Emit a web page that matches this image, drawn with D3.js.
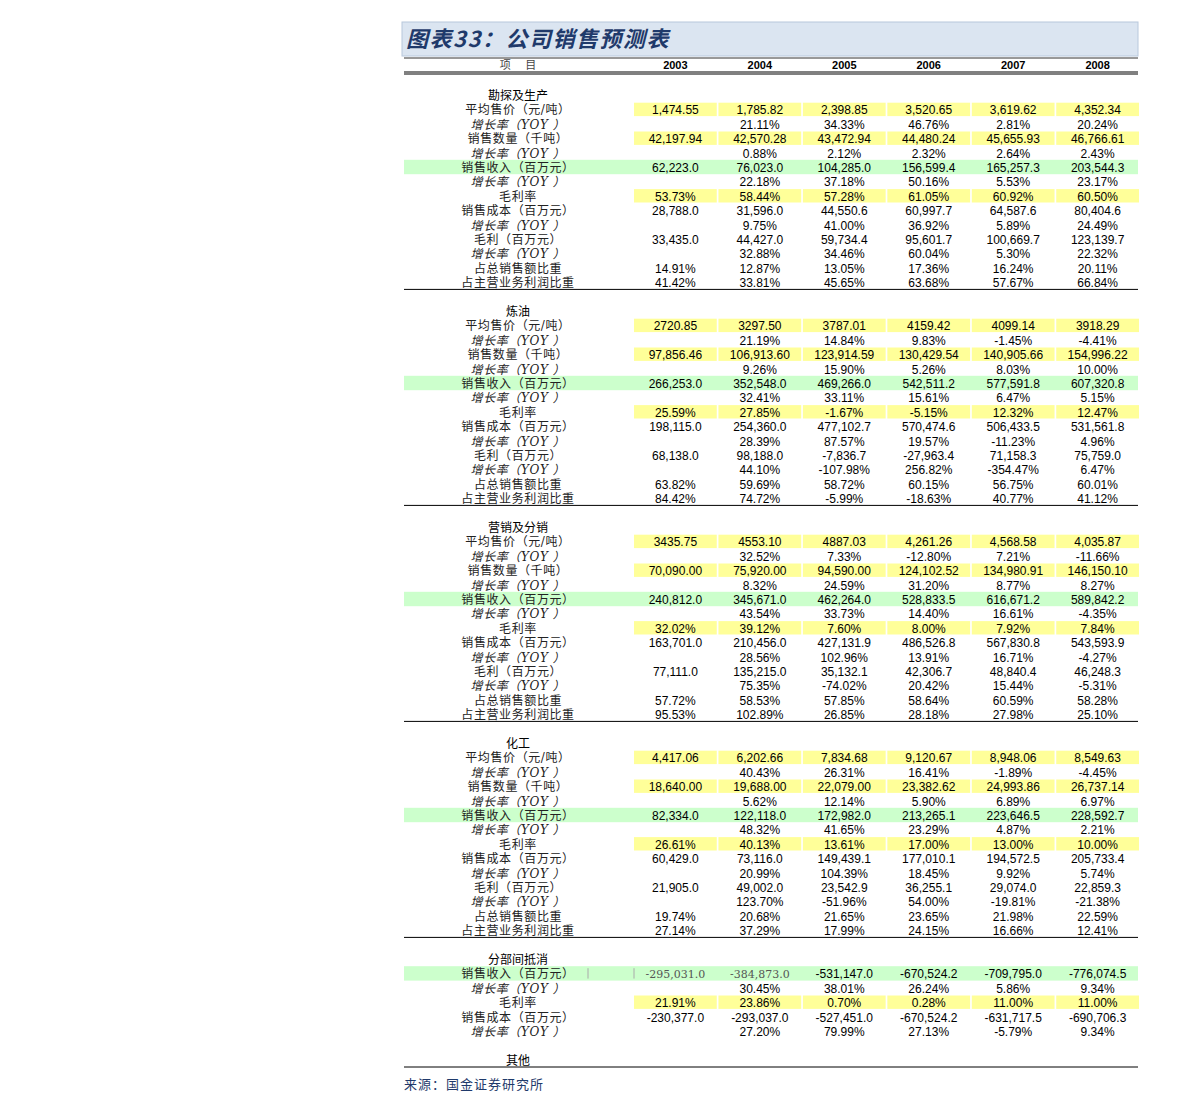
<!DOCTYPE html>
<html><head><meta charset="utf-8">
<script src="https://cdn.jsdelivr.net/npm/d3@7"></script>
<style>body{margin:0;background:#fff}</style>
</head><body><div id="tbl"></div>
<script>
// 表格数据
const years = ["2003","2004","2005","2006","2007","2008"];
const rowLabels = ["平均售价（元/吨）","增长率（YOY）","销售数量（千吨）","增长率（YOY）","销售收入（百万元）","增长率（YOY）","毛利率","销售成本（百万元）","增长率（YOY）","毛利（百万元）","增长率（YOY）","占总销售额比重","占主营业务利润比重"];
const rowFill = ["y","","y","","g","","y","","","","","",""];
const sections = ["勘探及生产","炼油","营销及分销","化工"];

const ep = [
["1,474.55","1,785.82","2,398.85","3,520.65","3,619.62","4,352.34"],
["","21.11%","34.33%","46.76%","2.81%","20.24%"],
["42,197.94","42,570.28","43,472.94","44,480.24","45,655.93","46,766.61"],
["","0.88%","2.12%","2.32%","2.64%","2.43%"],
["62,223.0","76,023.0","104,285.0","156,599.4","165,257.3","203,544.3"],
["","22.18%","37.18%","50.16%","5.53%","23.17%"],
["53.73%","58.44%","57.28%","61.05%","60.92%","60.50%"],
["28,788.0","31,596.0","44,550.6","60,997.7","64,587.6","80,404.6"],
["","9.75%","41.00%","36.92%","5.89%","24.49%"],
["33,435.0","44,427.0","59,734.4","95,601.7","100,669.7","123,139.7"],
["","32.88%","34.46%","60.04%","5.30%","22.32%"],
["14.91%","12.87%","13.05%","17.36%","16.24%","20.11%"],
["41.42%","33.81%","45.65%","63.68%","57.67%","66.84%"]];
const refining = [
["2720.85","3297.50","3787.01","4159.42","4099.14","3918.29"],
["","21.19%","14.84%","9.83%","-1.45%","-4.41%"],
["97,856.46","106,913.60","123,914.59","130,429.54","140,905.66","154,996.22"],
["","9.26%","15.90%","5.26%","8.03%","10.00%"],
["266,253.0","352,548.0","469,266.0","542,511.2","577,591.8","607,320.8"],
["","32.41%","33.11%","15.61%","6.47%","5.15%"],
["25.59%","27.85%","-1.67%","-5.15%","12.32%","12.47%"],
["198,115.0","254,360.0","477,102.7","570,474.6","506,433.5","531,561.8"],
["","28.39%","87.57%","19.57%","-11.23%","4.96%"],
["68,138.0","98,188.0","-7,836.7","-27,963.4","71,158.3","75,759.0"],
["","44.10%","-107.98%","256.82%","-354.47%","6.47%"],
["63.82%","59.69%","58.72%","60.15%","56.75%","60.01%"],
["84.42%","74.72%","-5.99%","-18.63%","40.77%","41.12%"]];
const marketing = [
["3435.75","4553.10","4887.03","4,261.26","4,568.58","4,035.87"],
["","32.52%","7.33%","-12.80%","7.21%","-11.66%"],
["70,090.00","75,920.00","94,590.00","124,102.52","134,980.91","146,150.10"],
["","8.32%","24.59%","31.20%","8.77%","8.27%"],
["240,812.0","345,671.0","462,264.0","528,833.5","616,671.2","589,842.2"],
["","43.54%","33.73%","14.40%","16.61%","-4.35%"],
["32.02%","39.12%","7.60%","8.00%","7.92%","7.84%"],
["163,701.0","210,456.0","427,131.9","486,526.8","567,830.8","543,593.9"],
["","28.56%","102.96%","13.91%","16.71%","-4.27%"],
["77,111.0","135,215.0","35,132.1","42,306.7","48,840.4","46,248.3"],
["","75.35%","-74.02%","20.42%","15.44%","-5.31%"],
["57.72%","58.53%","57.85%","58.64%","60.59%","58.28%"],
["95.53%","102.89%","26.85%","28.18%","27.98%","25.10%"]];
const chemicals = [
["4,417.06","6,202.66","7,834.68","9,120.67","8,948.06","8,549.63"],
["","40.43%","26.31%","16.41%","-1.89%","-4.45%"],
["18,640.00","19,688.00","22,079.00","23,382.62","24,993.86","26,737.14"],
["","5.62%","12.14%","5.90%","6.89%","6.97%"],
["82,334.0","122,118.0","172,982.0","213,265.1","223,646.5","228,592.7"],
["","48.32%","41.65%","23.29%","4.87%","2.21%"],
["26.61%","40.13%","13.61%","17.00%","13.00%","10.00%"],
["60,429.0","73,116.0","149,439.1","177,010.1","194,572.5","205,733.4"],
["","20.99%","104.39%","18.45%","9.92%","5.74%"],
["21,905.0","49,002.0","23,542.9","36,255.1","29,074.0","22,859.3"],
["","123.70%","-51.96%","54.00%","-19.81%","-21.38%"],
["19.74%","20.68%","21.65%","23.65%","21.98%","22.59%"],
["27.14%","37.29%","17.99%","24.15%","16.66%","12.41%"]];
const elimLabels = ["销售收入（百万元）","增长率（YOY）","毛利率","销售成本（百万元）","增长率（YOY）"];
const elimFill = ["g","","y","",""];
const elim = [
["-295,031.0","-384,873.0","-531,147.0","-670,524.2","-709,795.0","-776,074.5"],
["","30.45%","38.01%","26.24%","5.86%","9.34%"],
["21.91%","23.86%","0.70%","0.28%","11.00%","11.00%"],
["-230,377.0","-293,037.0","-527,451.0","-670,524.2","-631,717.5","-690,706.3"],
["","27.20%","79.99%","27.13%","-5.79%","9.34%"]];

const W = 1190, H = 1113, L = 404, R = 1138;
const svg = d3.select("#tbl").append("svg").attr("width", W).attr("height", H)
  .style("font-family", "'Liberation Sans',Arial,sans-serif");

const x = d3.scaleBand().domain(years).range([634, 1139]).paddingInner(0.02);
const y = d3.scaleLinear().domain([0, 1]).range([95, 109.4]); // 行号 -> 行中心
const rh = y(1) - y(0);
const labX = 518;
const base = 5;
const serif = "'DejaVu Serif','Noto Sans CJK SC',serif";

// 标题
svg.append("rect").attr("x", L - 2).attr("y", 22).attr("width", R - L + 2).attr("height", 34)
  .attr("fill", "#dbe5f1").attr("stroke", "#b8c8dc");
svg.append("text").attr("x", L + 2).attr("y", 47).text("图表33：公司销售预测表")
  .attr("font-size", 22).attr("font-weight", "bold").attr("font-style", "italic")
  .attr("letter-spacing", 1.5)
  .attr("fill", "#1f3a6b").attr("font-family", "'Noto Sans CJK SC',sans-serif");
svg.append("line").attr("x1", L).attr("x2", R).attr("y1", 58).attr("y2", 58).attr("stroke", "#333");

// 表头
svg.append("text").attr("x", labX).attr("y", 69).attr("text-anchor", "middle")
  .attr("font-size", 11).attr("font-family", serif).attr("fill", "#444").text("项　 目");
svg.selectAll(".yr").data(years).enter().append("text")
  .attr("x", d => x(d) + x.bandwidth() / 2).attr("y", 69).attr("text-anchor", "middle")
  .attr("font-size", 11).attr("font-weight", "bold").text(d => d);
svg.append("rect").attr("x", L).attr("y", 71).attr("width", R - L).attr("height", 4).attr("fill", "#808080");

function drawRows(startRow, labels, fills, vals, firstSerif) {
  labels.forEach((lab, i) => {
    const cy = y(startRow + i);
    const f = fills[i];
    if (f === "g") {
      svg.append("rect").attr("x", L).attr("y", cy - rh / 2).attr("width", R - L).attr("height", rh).attr("fill", "#ccffcc");
    } else if (f === "y") {
      svg.selectAll(null).data(years).enter().append("rect")
        .attr("x", d => x(d)).attr("y", cy - rh / 2 + 0.5).attr("width", x.bandwidth()).attr("height", rh - 1)
        .attr("fill", "#ffff99");
    }
    const italic = lab.startsWith("增长率");
    svg.append("text").attr("x", labX).attr("y", cy + base).attr("text-anchor", "middle")
      .attr("font-size", 12).attr("letter-spacing", 0.6).attr("font-family", serif)
      .attr("font-style", italic ? "italic" : "normal")
      .attr("fill", "#222").text(italic ? "增长率（YOY ）" : lab);
    svg.selectAll(null).data(vals[i]).enter().append("text")
      .attr("x", (d, j) => x(years[j]) + x.bandwidth() / 2).attr("y", cy + base)
      .attr("text-anchor", "middle").attr("font-size", (d, j) => firstSerif && i === 0 && j < 2 ? 11 : 12)
      .attr("font-family", (d, j) => firstSerif && i === 0 && j < 2 ? serif : null)
      .attr("fill", (d, j) => firstSerif && i === 0 && j < 2 ? "#555" : "#000")
      .text(d => d);
  });
}

function heading(row, t) {
  svg.append("text").attr("x", labX).attr("y", y(row) + base).attr("text-anchor", "middle")
    .attr("font-size", 12).attr("font-family", "'Noto Sans CJK SC',sans-serif").text(t);
}
function rule(row) {
  const yy = y(row) + rh / 2;
  svg.append("line").attr("x1", L).attr("x2", R).attr("y1", yy).attr("y2", yy).attr("stroke", "#000").attr("stroke-width", 1);
}

[ep, refining, marketing, chemicals].forEach((vals, s) => {
  const r0 = s * 15;
  heading(r0, sections[s]);
  drawRows(r0 + 1, rowLabels, rowFill, vals, false);
  rule(r0 + 13);
});
heading(60, "分部间抵消");
drawRows(61, elimLabels, elimFill, elim, true);
// 绿色行的竖线
[588, 634].forEach(xx => svg.append("line").attr("x1", xx).attr("x2", xx)
  .attr("y1", y(61) - rh / 2 + 2).attr("y2", y(61) + rh / 2 - 2).attr("stroke", "#aaa"));
heading(67, "其他");
rule(67);

svg.append("text").attr("x", L).attr("y", y(67) + 29).attr("font-size", 13).attr("letter-spacing", 1)
  .attr("fill", "#1f3a6b").attr("font-family", serif).text("来源：国金证券研究所");
</script></body></html>
